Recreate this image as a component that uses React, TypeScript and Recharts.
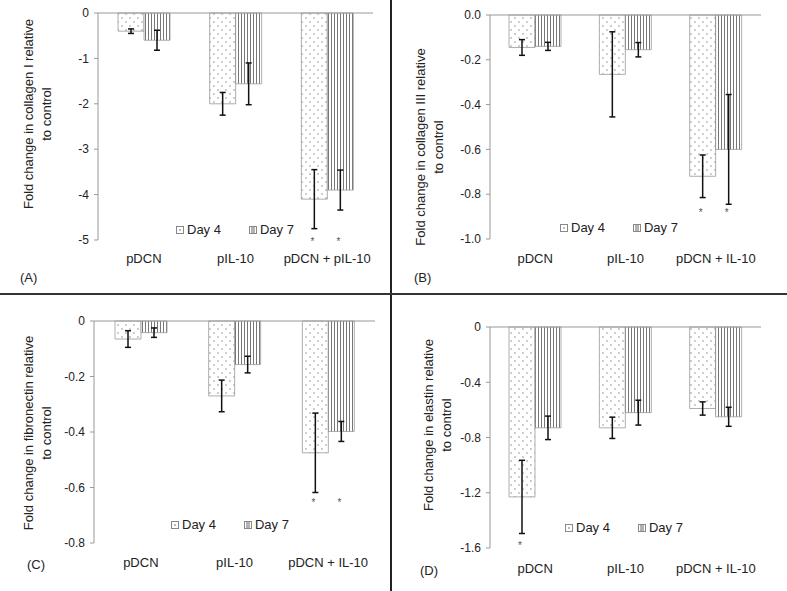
import React from 'react'
import { BarChart, Bar, XAxis, YAxis, ReferenceLine, ErrorBar, LabelList, Legend } from 'recharts'

const FONT = '"Liberation Sans Narrow", "Arial Narrow", "Liberation Sans", Arial, sans-serif'

// categories
const groupsA = ['pDCN', 'pIL-10', 'pDCN + pIL-10']
const groupsBCD = ['pDCN', 'pIL-10', 'pDCN + IL-10']

// (A) collagen I
const colI4 = [-0.4, -2.0, -4.1]
const colI4Err = [0.05, 0.25, 0.65]
const colI7 = [-0.6, -1.56, -3.9]
const colI7Err = [0.22, 0.46, 0.44]
const colIStar4 = [null, null, -5.06]
const colIStar7 = [null, null, -5.06]
const colITicks = [0, -1, -2, -3, -4, -5]

// (B) collagen III
const colIII4 = [-0.145, -0.265, -0.72]
const colIII4Err = [0.035, 0.19, 0.095]
const colIII7 = [-0.14, -0.155, -0.6]
const colIII7Err = [0.018, 0.032, 0.245]
const colIIIStar4 = [null, null, -0.885]
const colIIIStar7 = [null, null, -0.885]
const colIIITicks = [0, -0.2, -0.4, -0.6, -0.8, -1.0]

// (C) fibronectin
const fib4 = [-0.065, -0.27, -0.475]
const fib4Err = [0.03, 0.057, 0.143]
const fib7 = [-0.042, -0.157, -0.398]
const fib7Err = [0.017, 0.03, 0.036]
const fibStar4 = [null, null, -0.656]
const fibStar7 = [null, null, -0.656]
const fibTicks = [0, -0.2, -0.4, -0.6, -0.8]

// (D) elastin
const ela4 = [-1.23, -0.73, -0.59]
const ela4Err = [0.265, 0.077, 0.048]
const ela7 = [-0.73, -0.62, -0.65]
const ela7Err = [0.085, 0.09, 0.069]
const elaStar4 = [-1.585, null, null]
const elaStar7 = [null, null, null]
const elaTicks = [0, -0.4, -0.8, -1.2, -1.6]

type Margin = { top: number; right: number; bottom: number; left: number }

type PanelProps = {
  left: number
  top: number
  width: number
  height: number
  margin: Margin
  groups: string[]
  d4: number[]
  d4Err: number[]
  d7: number[]
  d7Err: number[]
  star4: (number | null)[]
  star7: (number | null)[]
  ticks: number[]
  fmt: (v: number) => string
  tickMargin: number
  legend: { left: number; top: number }
  yLabel: string[]
  yLabelPos: { x: number; y: number }
  tag: string
  tagPos: { x: number; y: number }
}

const starContent = (bars: number[], stars: (number | null)[]) => (props: any) => {
  const i = props.index
  const s = stars[i]
  if (s == null || i == null) return null
  const vb = props.viewBox ?? props
  const x = vb.x ?? props.x
  const y = vb.y ?? props.y
  const w = vb.width ?? props.width
  const h = vb.height ?? props.height
  const zero = Math.min(y, y + h)
  const ppu = Math.abs(h) / Math.abs(bars[i])
  return (
    <text
      x={x + w / 2 - 2}
      y={zero + Math.abs(s) * ppu}
      textAnchor="middle"
      dominantBaseline="middle"
      fontSize={10}
      fill="#555"
      fontFamily={FONT}
    >
      *
    </text>
  )
}

const LegendBox = () => (
  <div style={{ display: 'flex', alignItems: 'center', fontFamily: FONT, fontSize: 13, color: '#222', whiteSpace: 'nowrap' }}>
    <svg width={8} height={8} style={{ marginRight: 3 }}>
      <rect x={0.5} y={0.5} width={7} height={7} fill="#fff" stroke="#888" />
      <circle cx={4} cy={4} r={0.8} fill="#666" />
    </svg>
    <span style={{ marginRight: 28 }}>Day 4</span>
    <svg width={8} height={8} style={{ marginRight: 3 }}>
      <rect x={0.5} y={0.5} width={7} height={7} fill="#fff" stroke="#888" />
      <line x1={3} y1={1} x2={3} y2={7} stroke="#666" />
      <line x1={5} y1={1} x2={5} y2={7} stroke="#666" />
    </svg>
    <span>Day 7</span>
  </div>
)

const Panel = (p: PanelProps) => {
  const data = p.groups.map((name, i) => ({
    name,
    d4: p.d4[i],
    d4Err: p.d4Err[i],
    d7: p.d7[i],
    d7Err: p.d7Err[i],
    s4: p.star4[i],
    s7: p.star7[i],
  }))
  const lo = p.ticks[p.ticks.length - 1]
  return (
    <div style={{ position: 'absolute', left: p.left, top: p.top, width: p.width, height: p.height }}>
      <BarChart width={p.width} height={p.height} data={data} margin={p.margin} barGap={0} barSize={26}>
        <XAxis
          dataKey="name"
          axisLine={false}
          tickLine={false}
          interval={0}
          height={30}
          tickMargin={p.tickMargin}
          tick={{ fontSize: 13, fill: '#222', fontFamily: FONT }}
        />
        <YAxis
          width={40}
          domain={[lo, 0]}
          ticks={p.ticks}
          tickFormatter={p.fmt}
          interval={0}
          axisLine={{ stroke: '#999' }}
          tickLine={{ stroke: '#999' }}
          tickSize={4}
          tickMargin={5}
          tick={{ fontSize: 12, fill: '#222', fontFamily: FONT }}
        />
        <ReferenceLine y={0} stroke="#999" />
        <Legend verticalAlign="middle" layout="horizontal" content={LegendBox} wrapperStyle={{ left: p.legend.left, top: p.legend.top, width: 'auto', height: 'auto' }} />
        <Bar dataKey="d4" fill="url(#dots)" stroke="#999" strokeWidth={0.8} isAnimationActive={false}>
          <ErrorBar dataKey="d4Err" width={3} stroke="#111" strokeWidth={1.5} />
          <LabelList dataKey="s4" content={starContent(p.d4, p.star4)} />
        </Bar>
        <Bar dataKey="d7" fill="url(#stripes)" stroke="#999" strokeWidth={0.8} isAnimationActive={false}>
          <ErrorBar dataKey="d7Err" width={3} stroke="#111" strokeWidth={1.5} />
          <LabelList dataKey="s7" content={starContent(p.d7, p.star7)} />
        </Bar>
      </BarChart>
      <div
        style={{
          position: 'absolute',
          left: p.yLabelPos.x,
          top: p.yLabelPos.y,
          transform: 'translate(-50%, -50%) rotate(-90deg)',
          fontFamily: FONT,
          fontSize: 13,
          lineHeight: '18px',
          color: '#222',
          textAlign: 'center',
          whiteSpace: 'nowrap',
        }}
      >
        {p.yLabel.map((l) => (
          <div key={l}>{l}</div>
        ))}
      </div>
      <div
        style={{
          position: 'absolute',
          left: p.tagPos.x,
          top: p.tagPos.y,
          transform: 'translateY(-50%)',
          fontFamily: FONT,
          fontSize: 13,
          color: '#222',
        }}
      >
        {p.tag}
      </div>
    </div>
  )
}

const fmtInt = (v: number) => String(v)
const fmt1 = (v: number) => v.toFixed(1)
const fmtShort = (v: number) => (v === 0 ? '0' : String(v))

export default function App() {
  return (
    <div style={{ position: 'absolute', left: 0, top: 0, width: 787, height: 591, background: '#fff', overflow: 'hidden' }}>
      <svg width={0} height={0} style={{ position: 'absolute' }}>
        <defs>
          <pattern id="dots" width="8" height="8" patternUnits="userSpaceOnUse">
            <rect width="8" height="8" fill="#fff" />
            <circle cx="2" cy="2" r="0.7" fill="#777" />
            <circle cx="6" cy="6" r="0.7" fill="#777" />
          </pattern>
          <pattern id="stripes" width="3" height="6" patternUnits="userSpaceOnUse">
            <rect width="3" height="6" fill="#fff" />
            <rect x="1" width="1" height="6" fill="#777" />
          </pattern>
        </defs>
      </svg>
      <Panel
        left={0}
        top={0}
        width={393}
        height={295}
        margin={{ top: 13, right: 20, bottom: 25, left: 58 }}
        groups={groupsA}
        d4={colI4}
        d4Err={colI4Err}
        d7={colI7}
        d7Err={colI7Err}
        star4={colIStar4}
        star7={colIStar7}
        ticks={colITicks}
        fmt={fmtInt}
        tickMargin={8}
        legend={{ left: 176, top: 222 }}
        yLabel={['Fold change in collagen I relative', 'to control']}
        yLabelPos={{ x: 38, y: 114 }}
        tag="(A)"
        tagPos={{ x: 20, y: 277 }}
      />
      <Panel
        left={393}
        top={0}
        width={394}
        height={295}
        margin={{ top: 15, right: 26, bottom: 26, left: 57 }}
        groups={groupsBCD}
        d4={colIII4}
        d4Err={colIII4Err}
        d7={colIII7}
        d7Err={colIII7Err}
        star4={colIIIStar4}
        star7={colIIIStar7}
        ticks={colIIITicks}
        fmt={fmt1}
        tickMargin={9}
        legend={{ left: 167, top: 220 }}
        yLabel={['Fold change in collagen III relative', 'to control']}
        yLabelPos={{ x: 37, y: 147 }}
        tag="(B)"
        tagPos={{ x: 21, y: 277 }}
      />
      <Panel
        left={0}
        top={295}
        width={393}
        height={296}
        margin={{ top: 26, right: 18, bottom: 18, left: 54 }}
        groups={groupsBCD}
        d4={fib4}
        d4Err={fib4Err}
        d7={fib7}
        d7Err={fib7Err}
        star4={fibStar4}
        star7={fibStar7}
        ticks={fibTicks}
        fmt={fmtShort}
        tickMargin={9}
        legend={{ left: 171, top: 222 }}
        yLabel={['Fold change in fibronectin relative', 'to control']}
        yLabelPos={{ x: 38, y: 138 }}
        tag="(C)"
        tagPos={{ x: 27, y: 269 }}
      />
      <Panel
        left={393}
        top={295}
        width={394}
        height={296}
        margin={{ top: 32, right: 26, bottom: 13, left: 57 }}
        groups={groupsBCD}
        d4={ela4}
        d4Err={ela4Err}
        d7={ela7}
        d7Err={ela7Err}
        star4={elaStar4}
        star7={elaStar7}
        ticks={elaTicks}
        fmt={fmtShort}
        tickMargin={10}
        legend={{ left: 172, top: 225 }}
        yLabel={['Fold change in elastin relative', 'to control']}
        yLabelPos={{ x: 45, y: 130 }}
        tag="(D)"
        tagPos={{ x: 27, y: 275 }}
      />
      <div style={{ position: 'absolute', left: 390, top: 0, width: 2, height: 591, background: '#222' }} />
      <div style={{ position: 'absolute', left: 0, top: 293, width: 787, height: 2, background: '#333' }} />
    </div>
  )
}
